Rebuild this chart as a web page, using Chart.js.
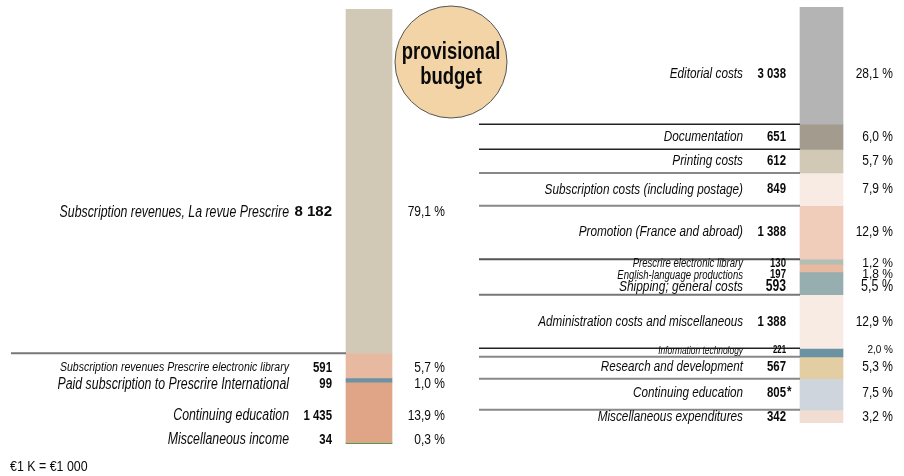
<!DOCTYPE html>
<html>
<head>
<meta charset="utf-8">
<script src="https://cdn.jsdelivr.net/npm/chart.js@4"></script>
<style>
  html, body { margin: 0; padding: 0; background: #fff; }
  #wrap { position: relative; width: 904px; height: 476px; }
  #wrap canvas { position: absolute; left: 0; top: 0; }
</style>
</head>
<body>
<div id="wrap">
  <canvas id="revenues" width="904" height="476"></canvas>
  <canvas id="expenditures" width="904" height="476"></canvas>
</div>
<script>
// Ricavi (dall'alto verso il basso), in migliaia di euro
const revenueLabels = [
  'Subscription revenues, La revue Prescrire',
  'Subscription revenues Prescrire electronic library',
  'Paid subscription to Prescrire International',
  'Continuing education',
  'Miscellaneous income'
];
const revenueValues = [8182, 591, 99, 1435, 34];
const revenuePercents = ['79,1 %', '5,7 %', '1,0 %', '13,9 %', '0,3 %'];

// Spese (dall'alto verso il basso)
const expenseLabels = [
  'Editorial costs',
  'Documentation',
  'Printing costs',
  'Subscription costs (including postage)',
  'Promotion (France and abroad)',
  'Prescrire electronic library',
  'English-language productions',
  'Shipping; general costs',
  'Administration costs and miscellaneous',
  'Information technology',
  'Research and development',
  'Continuing education',
  'Miscellaneous expenditures'
];
const expenseValues = [3038, 651, 612, 849, 1388, 130, 197, 593, 1388, 221, 567, 805, 342];
const expensePercents = ['28,1 %', '6,0 %', '5,7 %', '7,9 %', '12,9 %', '1,2 %', '1,8 %', '5,5 %', '12,9 %', '2,0 %', '5,3 %', '7,5 %', '3,2 %'];
const expenseNotes = ['', '', '', '', '', '', '', '', '', '', '', '*', ''];

// Stile: il font condensato si ottiene comprimendo Liberation Sans
const FONT = "'Liberation Sans', Arial, sans-serif";
const SQUEEZE = 0.77;
const revenueColors = ['#d1c9b6', '#e8b9a1', '#6b93a3', '#e0a487', '#4a9c57'];
const expenseColors = ['#b4b4b4', '#a39b8e', '#d1c9b6', '#f8ebe4', '#efcdba', '#b2bdb4', '#e8b9a1',
  '#97aeb0', '#f8ebe4', '#6a92a3', '#e3cea3', '#cfd5dd', '#f1ddd2'];
// dimensioni: etichetta, valore, percentuale
const revenueLabelSize = [16, 13.7, 16, 16, 16];
const revenueValueSize = [15, 15, 15, 15, 15];
const revenueValueSqueeze = [1.0, 0.76, 0.76, 0.76, 0.76];
const revenuePctSize = [15, 15, 15, 15, 15];
const revenuePctSqueeze = [0.8, 0.8, 0.8, 0.8, 0.8];
const revenueShift = [31, 2, 4, 3, -4];

const expenseLabelSize = [15.3, 15.3, 15.3, 15.3, 15.3, 12.4, 12.4, 15.5, 15.2, 10.9, 15.1, 15.2, 15.3];
const expenseValueSize = [15, 15, 15, 15, 15, 12, 12, 16, 15, 10, 15, 15, 15];
const expenseValueSqueeze = [0.76, 0.76, 0.76, 0.76, 0.76, 0.8, 0.8, 0.76, 0.76, 0.78, 0.76, 0.76, 0.76];
const expensePctSize = [15, 15, 15, 15, 15, 12, 12, 16, 15, 10, 15, 15, 15];
const expensePctSqueeze = [0.8, 0.8, 0.8, 0.8, 0.8, 1.0, 1.0, 0.78, 0.8, 1.0, 0.8, 0.8, 0.8];
const expenseShift = [8, 0, 0, 0, -1, 2, 7, 3, 0, -2, -1, -1, 0];
// linea sotto ogni segmento: null = nessuna
const revenueRules = ['#777', null, null, null, null];
const expenseRules = ['#222', '#222', '#888', '#888', '#555', null, null, '#777', '#222', '#888', '#888', '#888', null];

function formatK(n) {
  return n.toString().replace(/\B(?=(\d{3})+(?!\d))/g, ' ');
}

// testo compresso orizzontalmente
function squeezeText(ctx, text, x, y, squeeze) {
  const w = ctx.measureText(text).width;
  ctx.fillText(text, x, y, w * squeeze);
  return w * squeeze;
}

function makeLabelPlugin(cfg) {
  return {
    id: 'labels-' + cfg.id,
    afterDatasetsDraw(chart) {
      const ctx = chart.ctx;
      ctx.save();
      ctx.textBaseline = 'middle';
      chart.data.datasets.forEach((ds, i) => {
        const bar = chart.getDatasetMeta(i).data[0];
        const left = bar.x - bar.width / 2;
        const right = bar.x + bar.width / 2;
        const top = Math.min(bar.y, bar.base);
        const bottom = Math.max(bar.y, bar.base);
        const mid = (top + bottom) / 2 + cfg.shift[i];

        // separatore
        if (cfg.rules[i]) {
          ctx.strokeStyle = cfg.rules[i];
          ctx.lineWidth = cfg.rules[i] === '#222' ? 1.5 : 2;
          ctx.beginPath();
          ctx.moveTo(cfg.ruleFrom, bottom);
          ctx.lineTo(left, bottom);
          ctx.stroke();
        }

        ctx.fillStyle = '#0a0a0a';
        ctx.textAlign = 'right';
        ctx.font = `italic ${cfg.labelSize[i]}px ${FONT}`;
        squeezeText(ctx, cfg.labels[i], left - 57, mid, SQUEEZE);
        ctx.font = `bold ${cfg.valueSize[i]}px ${FONT}`;
        squeezeText(ctx, formatK(cfg.values[i]), left - 14, mid, cfg.valueSqueeze[i]);
        if (cfg.notes && cfg.notes[i]) {
          ctx.textAlign = 'left';
          squeezeText(ctx, cfg.notes[i], left - 13, mid - 1, SQUEEZE);
          ctx.textAlign = 'right';
        }
        ctx.font = `${cfg.pctSize[i]}px ${FONT}`;
        squeezeText(ctx, cfg.percents[i], right + cfg.pctGap, mid, cfg.pctSqueeze[i]);
      });
      if (cfg.after) cfg.after(chart);
      ctx.restore();
    }
  };
}

function drawBadge(chart) {
  const ctx = chart.ctx;
  const bar = chart.getDatasetMeta(0).data[0];
  const cx = bar.x + bar.width / 2 + 59;
  const cy = chart.chartArea.top + 53;
  ctx.beginPath();
  ctx.arc(cx, cy, 56, 0, Math.PI * 2);
  ctx.fillStyle = '#f2d4a6';
  ctx.fill();
  ctx.strokeStyle = '#555';
  ctx.lineWidth = 1;
  ctx.stroke();
  ctx.fillStyle = '#0a0a0a';
  ctx.textAlign = 'center';
  ctx.textBaseline = 'middle';
  ctx.font = `bold 24px ${FONT}`;
  squeezeText(ctx, 'provisional', cx, cy - 10, SQUEEZE);
  squeezeText(ctx, 'budget', cx, cy + 15, SQUEEZE);

  ctx.textAlign = 'left';
  ctx.font = `15.5px ${FONT}`;
  squeezeText(ctx, '\u20ac1 K = \u20ac1 000', 10, 467, 0.8);
}

function buildChart(canvasId, cfg) {
  const total = cfg.values.reduce((a, b) => a + b, 0);
  const datasets = cfg.values.map((v, i) => ({
    label: cfg.labels[i],
    data: [v],
    backgroundColor: cfg.colors[i],
    borderWidth: 0,
    minBarLength: 2,
    barThickness: cfg.thickness
  }));
  return new Chart(document.getElementById(canvasId), {
    type: 'bar',
    data: { labels: [''], datasets: datasets },
    options: {
      responsive: false,
      animation: false,
      devicePixelRatio: 1,
      layout: { padding: cfg.padding },
      plugins: { legend: { display: false }, tooltip: { enabled: false } },
      scales: {
        x: { display: false, stacked: true },
        y: { display: false, stacked: true, min: 0, max: total, reverse: true }
      }
    },
    plugins: [makeLabelPlugin(cfg)]
  });
}

buildChart('revenues', {
  id: 'rev',
  labels: revenueLabels,
  values: revenueValues,
  percents: revenuePercents,
  colors: revenueColors,
  labelSize: revenueLabelSize,
  valueSize: revenueValueSize,
  valueSqueeze: revenueValueSqueeze,
  pctSize: revenuePctSize,
  pctSqueeze: revenuePctSqueeze,
  pctGap: 53,
  shift: revenueShift,
  rules: revenueRules,
  ruleFrom: 11,
  thickness: 46,
  padding: { left: 300, right: 466, top: 9, bottom: 32 },
  after: drawBadge
});

buildChart('expenditures', {
  id: 'exp',
  labels: expenseLabels,
  values: expenseValues,
  percents: expensePercents,
  notes: expenseNotes,
  colors: expenseColors,
  labelSize: expenseLabelSize,
  valueSize: expenseValueSize,
  valueSqueeze: expenseValueSqueeze,
  pctSize: expensePctSize,
  pctSqueeze: expensePctSqueeze,
  pctGap: 50,
  shift: expenseShift,
  rules: expenseRules,
  ruleFrom: 479,
  thickness: 43,
  padding: { left: 760, right: 21, top: 7, bottom: 53 }
});
</script>
</body>
</html>
